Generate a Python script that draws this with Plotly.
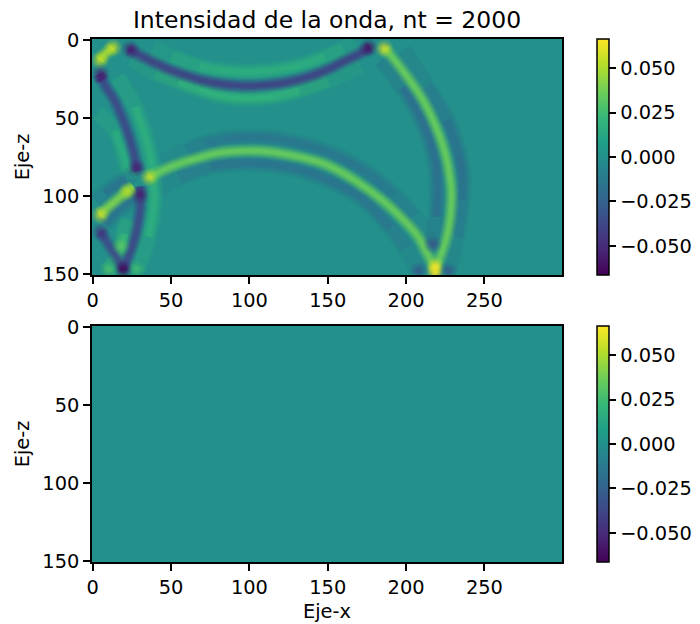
import plotly.graph_objects as go
from plotly.colors import sample_colorscale

# colour limits and ticks
VMAX = 0.0665
cbar_ticks = [-0.05, -0.025, 0.0, 0.025, 0.05]
x_ticks = [0, 50, 100, 150, 200, 250]
z_ticks = [0, 50, 100, 150]
x_edges = [-0.5, 299.5]
z_edges = [-0.5, 150.5]
still_field = [[0.0]]

# wave fronts: x samples, z samples, value
a_main_x = [23, 30, 40, 50, 60, 70, 80, 96, 110, 125, 140, 150, 160, 170, 177]
a_main_z = [6, 10, 15, 19.5, 23, 26, 28, 29.5, 29, 27, 23, 19, 14, 9, 5]
a_upper_x = [38, 50, 68, 82, 96, 115, 132, 148, 160, 168]
a_upper_z = [6, 11, 17, 19.5, 20.5, 19.5, 16.5, 11, 6, 2]
a_lower_x = [25, 40, 55, 68, 82, 96, 115, 132, 150, 171]
a_lower_z = [12, 21, 27, 32, 36, 37.5, 36.5, 32.5, 26, 16]

b_main_x = [36, 48, 59, 68, 77, 88, 100, 115, 132, 148, 160, 171, 182, 192, 207, 213, 219]
b_main_z = [88, 82, 78, 75.5, 73, 71.5, 71, 72, 75, 79.5, 85.5, 92.5, 100.5, 109, 125, 136, 147]
b_top_x = [45, 60, 72, 85, 100, 118, 135, 155, 175, 192, 205, 216]
b_top_z = [79, 71, 66, 63.5, 62.5, 63.5, 67, 74, 85, 99, 113, 130]
b_bot_x = [42, 55, 75, 95, 115, 135, 155, 171, 190, 200, 208]
b_bot_z = [95, 88, 81, 79, 80, 84, 92, 101, 120, 133, 147]

c_main_x = [186.5, 198, 211, 221.5, 225.5, 228, 229, 228.5, 226, 221, 218]
c_main_z = [5.5, 20, 39, 62, 75, 88, 98, 110, 126, 141, 148]
c_right_x = [198, 213, 226, 234, 236, 235.5, 232, 227]
c_right_z = [7, 30, 51.5, 75, 88, 102, 126, 147]
c_left_x = [184.5, 198, 211, 218.5, 220, 219.5, 216.5]
c_left_z = [13, 30.5, 53.5, 77, 92, 113, 131]

d_main_x = [5, 9, 14, 22.5, 27, 28.5]
d_main_z = [24, 31, 39, 60, 76, 84]
d_low_x = [30, 30.5, 27, 23, 19.5]
d_low_z = [94, 104, 126, 138, 147]
d_right_x = [15.5, 27, 35.5, 39, 39, 35.5, 28.5]
d_right_z = [24, 43, 69, 90, 107, 126, 147]
d_left_x = [3, 14, 20.5, 22, 23]
d_left_z = [47, 58, 77, 85, 90]

e_main_x = [4.5, 10, 16, 22, 26]
e_main_z = [112, 107, 102, 97, 94]
e_top_x = [2, 8, 15, 21, 25]
e_top_z = [103, 98, 93, 89, 86]
e_bot_x = [8, 13, 20, 27]
e_bot_z = [118, 112, 106, 101]

f_main_x = [5, 10, 15, 19.5]
f_main_z = [123, 131, 139, 147]
g_main_x = [23, 20, 18.5, 17, 14, 10]
g_main_z = [115, 124, 133, 137, 142, 148]
h_main_x = [4.5, 8, 13]
h_main_z = [13, 9, 5]
h_left_x = [4, 6]
h_left_z = [22, 26]

FRONTS = [
    (a_upper_x, a_upper_z, 0.018), (a_lower_x, a_lower_z, 0.020),
    (b_top_x, b_top_z, -0.014), (b_bot_x, b_bot_z, -0.016),
    (c_right_x, c_right_z, -0.018), (c_left_x, c_left_z, -0.018),
    (d_right_x, d_right_z, 0.018), (d_left_x, d_left_z, 0.016),
    (e_top_x, e_top_z, -0.016), (e_bot_x, e_bot_z, -0.016),
    (g_main_x, g_main_z, 0.022),
    (a_main_x, a_main_z, -0.040), (b_main_x, b_main_z, 0.036),
    (c_main_x, c_main_z, 0.036), (d_main_x, d_main_z, -0.038),
    (d_low_x, d_low_z, -0.038), (e_main_x, e_main_z, 0.040),
    (f_main_x, f_main_z, -0.036),
    (h_main_x, h_main_z, 0.048), (h_left_x, h_left_z, -0.050),
]

# round bright or dark spots: x, z, value
spot_x = [24, 176, 218.5, 218.5, 186, 19.5, 28, 30, 36, 22, 5, 4.5, 13, 5, 217, 10, 28, 208, 227, 5, 18]
spot_z = [6, 5, 145, 149, 5.5, 147, 82, 99, 88, 97, 112, 13, 5, 22, 131, 147, 147, 148, 148, 123, 132]
spot_v = [-0.056, -0.060, 0.066, 0.066, 0.058, -0.066, -0.054, -0.056, 0.056, 0.052, 0.056,
          0.054, 0.054, -0.054, -0.032, 0.028, 0.026, -0.030, -0.030, -0.046, 0.032]

# soft edge of a front: stacked strokes, wide and faint to narrow and less faint
STROKES = [(15, 0.10), (13, 0.14), (11, 0.18), (9, 0.24), (7, 0.32), (5, 0.42), (3, 0.5)]
WEAK_SCALE = 1.25
WEAK_LIMIT = 0.03
SPOT_STACK = [(19, 0.08), (16, 0.12), (13, 0.17), (10, 0.24), (7, 0.32), (4, 0.42)]


def rgba(value, alpha):
    t = (value + VMAX) / (2 * VMAX)
    c = sample_colorscale("Viridis", [min(max(t, 0), 1)], colortype="rgb")[0]
    return c.replace("rgb(", "rgba(").replace(")", f",{alpha})")


FONT = "DejaVu Sans"
# the page sets the figure 8 px in from the window's corner
PAGE = 8
W, H = 700 - PAGE, 624 - PAGE
LW = 1.5
TICK_PX = 19.4


def fx(p):
    return (p - PAGE) / W


def fy(p):
    return 1 - (p - PAGE) / H


fig = go.Figure()


def colorbar(top, bottom):
    return dict(
        x=fx(597), xanchor="left", xpad=0, thickness=12, thicknessmode="pixels",
        y=fy(bottom), yanchor="bottom", ypad=0,
        len=(bottom - top) / H, lenmode="fraction",
        outlinewidth=LW, outlinecolor="black",
        tickmode="array", tickvals=cbar_ticks, tickformat=".3f",
        ticks="outside", ticklen=7, tickwidth=LW, tickcolor="black",
        tickfont=dict(family=FONT, size=TICK_PX, color="black"),
    )


for xa, ya, top, bottom in (("x", "y", 39, 275), ("x2", "y2", 326, 562)):
    fig.add_trace(go.Heatmap(
        z=still_field, x=x_edges, y=z_edges, xaxis=xa, yaxis=ya,
        colorscale="Viridis", zmin=-VMAX, zmax=VMAX, hoverinfo="skip",
        colorbar=colorbar(top, bottom),
    ))

for px_, pz_, value in FRONTS:
    weak = abs(value) < WEAK_LIMIT
    n = len(px_)
    for i, (width, alpha) in enumerate(STROKES):
        trim = (i // 2) if weak and n >= 8 else (1 if weak and i >= 3 and n >= 5 else 0)
        fig.add_trace(go.Scatter(
            x=px_[trim:n - trim], y=pz_[trim:n - trim], mode="lines",
            xaxis="x", yaxis="y", showlegend=False, hoverinfo="skip",
            line=dict(color=rgba(value, alpha), width=width * (WEAK_SCALE if weak else 1),
                      shape="spline"),
        ))

for sx, sz, value in zip(spot_x, spot_z, spot_v):
    for size, alpha in SPOT_STACK:
        fig.add_trace(go.Scatter(
            x=[sx], y=[sz], mode="markers", xaxis="x", yaxis="y", showlegend=False,
            hoverinfo="skip",
            marker=dict(color=rgba(value, alpha), size=size, line=dict(width=0)),
        ))

axis = dict(
    showgrid=False, zeroline=False, showline=True, linecolor="black", linewidth=LW,
    mirror=True, ticks="outside", ticklen=7, tickwidth=LW, tickcolor="black",
    tickfont=dict(family=FONT, size=TICK_PX, color="black"),
)
xax = dict(axis, range=x_edges, tickmode="array", tickvals=x_ticks)
zax = dict(axis, range=z_edges[::-1], tickmode="array", tickvals=z_ticks)
title_font = dict(family=FONT, size=TICK_PX, color="black")

fig.update_layout(
    width=W, height=H, margin=dict(l=0, r=0, t=0, b=0, autoexpand=False),
    paper_bgcolor="white", plot_bgcolor="white", showlegend=False,
    title=dict(text="Intensidad de la onda, nt = 2000", x=fx(327), xanchor="center",
               y=fy(20), yanchor="middle",
               font=dict(family=FONT, size=23.5, color="black")),
    xaxis=dict(xax, domain=[fx(92), fx(562)], anchor="y"),
    yaxis=dict(zax, domain=[fy(275), fy(39)], anchor="x",
               title=dict(text="Eje-z", font=title_font, standoff=8)),
    xaxis2=dict(xax, domain=[fx(92), fx(562)], anchor="y2",
                title=dict(text="Eje-x", font=title_font, standoff=6)),
    yaxis2=dict(zax, domain=[fy(562), fy(326)], anchor="x2",
                title=dict(text="Eje-z", font=title_font, standoff=8)),
)
fig.write_html("out.html")
